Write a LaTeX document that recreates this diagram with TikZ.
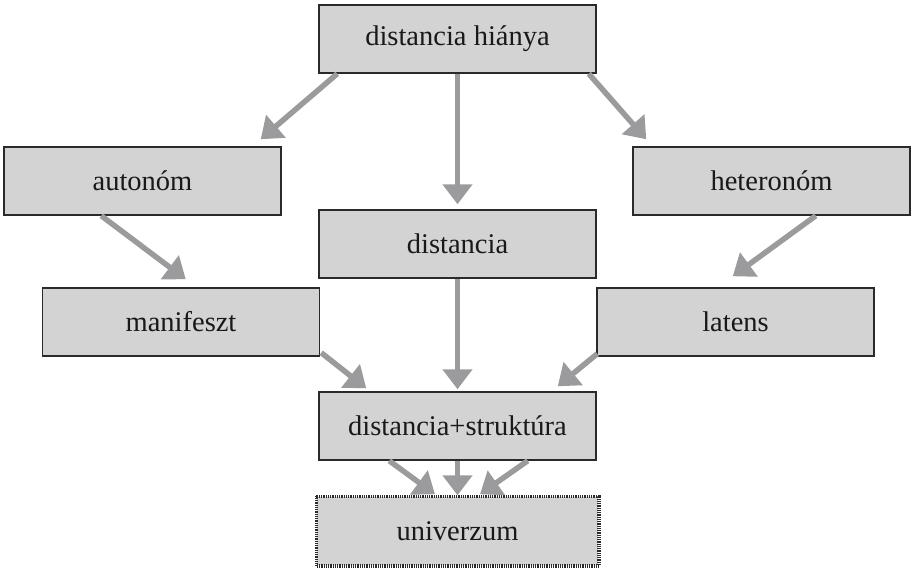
\documentclass[tikz,border=0pt]{standalone}
\usepackage{fontspec}
\setmainfont{Liberation Serif}
\usetikzlibrary{arrows.meta,calc}
\definecolor{boxfill}{HTML}{D3D3D4}
\definecolor{boxline}{HTML}{2A2A2A}
\definecolor{arrowgray}{HTML}{9B9B9D}
\tikzset{
  box/.style={draw=boxline, line width=1.5pt, fill=boxfill, minimum width=277pt,
    minimum height=68pt, inner sep=0pt, font=\fontsize{28.5}{32}\selectfont, text=black!90},
  hatchbox/.style={box, draw=none, minimum width=281pt},
  flow/.style={draw=arrowgray, line width=5.5pt,
    -{Triangle[length=20pt,width=29pt]}},
}
\begin{document}
\begin{tikzpicture}[x=1pt,y=-1pt]
\useasboundingbox (0,0) rectangle (911,568);

% boxes
\node[box] (top)   at (457.5,39)  {distancia hiánya};
\node[box] (auto)  at (142.5,181) {autonóm};
\node[box] (hetero) at (771.5,181) {heteronóm};
\node[box] (dist)  at (457.5,244) {distancia};
\node[box] (mani)  at (181,322)   {manifeszt};
\node[box] (lat)   at (735.5,322) {latens};
\node[box] (ds)    at (457.5,426) {distancia+struktúra};
\node[hatchbox] (univ) at (457.5,531) {univerzum};
% textured frame of the last box
\draw[boxline, line width=3.5pt, dash pattern=on 1pt off 0.8pt]
  (univ.north west) rectangle (univ.south east);

% connectors
\draw[flow] ($(top.south west)+(19,0)$) -- ($(auto.north east)+(-21,-7)$);
\draw[flow] (top.south) -- ($(dist.north)+(0,-5)$);
\draw[flow] ($(top.south east)+(-8,0)$) -- ($(hetero.north west)+(14,-7)$);

\draw[flow] ($(auto.south west)+(98,0)$) -- ($(mani.north west)+(144,-8)$);
\draw[flow] ($(hetero.south east)+(-95,0)$) -- ($(lat.north east)+(-142,-11)$);

\draw[flow] ($(mani.south east)+(1,-4)$) -- ($(ds.north west)+(48,-3)$);
\draw[flow] (dist.south) -- ($(ds.north)+(0,-2)$);
\draw[flow] ($(lat.south west)+(1,-3)$) -- ($(ds.north east)+(-39,-5)$);

\draw[flow] ($(ds.south west)+(71,0)$) -- ($(univ.north)+(-22.5,-2)$);
\draw[flow] (ds.south) -- ($(univ.north)+(0,-1)$);
\draw[flow] ($(ds.south east)+(-69,0)$) -- ($(univ.north)+(22.5,-2)$);
\end{tikzpicture}
\end{document}
